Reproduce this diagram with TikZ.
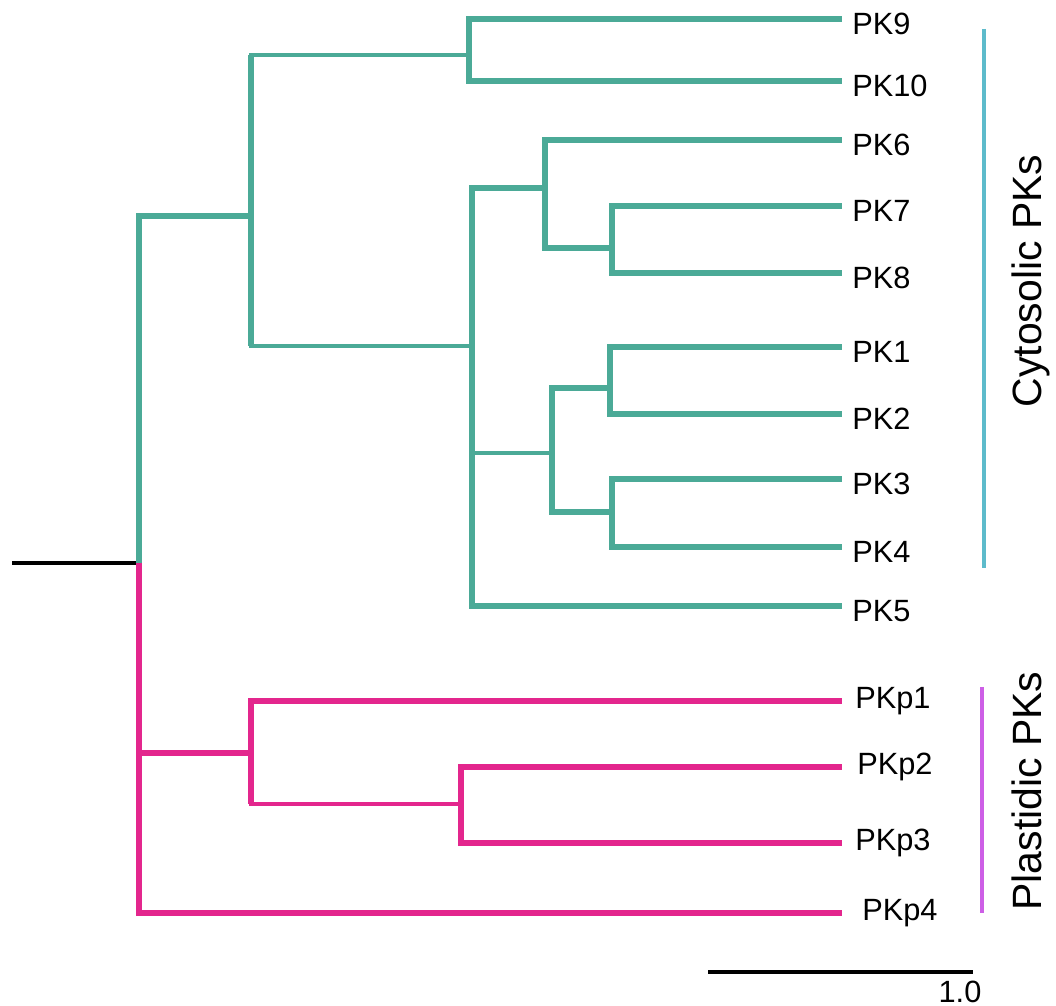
\documentclass[tikz,border=0pt]{standalone}
\usepackage{fontspec}
\setmainfont{Liberation Sans}
\usetikzlibrary{positioning}
\definecolor{cytgreen}{HTML}{4BAA97}
\definecolor{cytbar}{HTML}{5DBBCB}
\definecolor{plapink}{HTML}{E3268D}
\definecolor{plabar}{HTML}{CD5FE6}
\newcommand\tipx{842}
\newcommand\lgap{0.2cm}
\newcommand\pgap{0.26cm}
\newcommand\barx{984}
\newcommand\leaffont{\fontsize{17.5}{20}\selectfont}
\newcommand\groupfont{\fontsize{23.3}{27}\selectfont}

\begin{document}
\begin{tikzpicture}[x=0.02cm, y=-0.02cm,
  branch/.style={line width=3.2pt},
  twig/.style={line width=2.6pt},
  leaf/.style={inner sep=0pt, font=\leaffont},
  cytleaf/.style={leaf, yshift=-0.1cm},
  group/.style={rotate=90, anchor=base, inner sep=0pt, font=\groupfont},
  bar/.style={line width=2.3pt}]
  \useasboundingbox (0,0) rectangle (1056,1006);
  % inner nodes
  \coordinate (r) at (12,563);
  \coordinate (a) at (139,563);
  \coordinate (c1) at (251,216);
  \coordinate (c2) at (469,55);
  \coordinate (c3) at (472,346);
  \coordinate (c4) at (545,188);
  \coordinate (c5) at (612,248);
  \coordinate (c6) at (552,453);
  \coordinate (c7) at (610,388);
  \coordinate (c8) at (612,512);
  \coordinate (p1) at (251,753);
  \coordinate (p2) at (461,804);
  % tips
  \coordinate (t9) at (\tipx,19);
  \coordinate (t10) at (\tipx,81);
  \coordinate (t6) at (\tipx,140);
  \coordinate (t7) at (\tipx,206);
  \coordinate (t8) at (\tipx,273);
  \coordinate (t1) at (\tipx,347);
  \coordinate (t2) at (\tipx,414);
  \coordinate (t3) at (\tipx,479);
  \coordinate (t4) at (\tipx,547);
  \coordinate (t5) at (\tipx,606);
  \coordinate (tp1) at (\tipx,701);
  \coordinate (tp2) at (\tipx,767);
  \coordinate (tp3) at (\tipx,843);
  \coordinate (tp4) at (\tipx,913);
  % tip labels
  \node [cytleaf, right=\lgap of t9] (n9) {PK9};
  \node [cytleaf, right=\lgap of t10] (n10) {PK10};
  \node [cytleaf, right=\lgap of t6] (n6) {PK6};
  \node [cytleaf, right=\lgap of t7] (n7) {PK7};
  \node [cytleaf, right=\lgap of t8] (n8) {PK8};
  \node [cytleaf, right=\lgap of t1] (n1) {PK1};
  \node [cytleaf, right=\lgap of t2] (n2) {PK2};
  \node [cytleaf, right=\lgap of t3] (n3) {PK3};
  \node [cytleaf, right=\lgap of t4] (n4) {PK4};
  \node [cytleaf, right=\lgap of t5] (n5) {PK5};
  \node [leaf, right=\pgap of tp1] (np1) {PKp1};
  \node [leaf, right=\pgap+0.04cm of tp2] (np2) {PKp2};
  \node [leaf, right=\pgap of tp3] (np3) {PKp3};
  \node [leaf, right=\pgap+0.14cm of tp4] (np4) {PKp4};

  % root
  \draw [line width=2.3pt, black] (r) -- (a);
  % cytosolic clade
  \draw [branch, cytgreen] (a) |- (c1);
  \draw [twig, cytgreen] (c1) |- (c2);
  \draw [twig, cytgreen] (c1) |- (c3);
  \draw [branch, cytgreen] (c1 |- c2) -- (c1 |- c3);
  \draw [branch, cytgreen] (c2) |- (t9);
  \draw [branch, cytgreen] (c2) |- (t10);
  \draw [branch, cytgreen] (c3) |- (c4);
  \draw [twig, cytgreen] (c3) |- (c6);
  \draw [branch, cytgreen] (c3) |- (t5);
  \draw [branch, cytgreen] (c4) |- (t6);
  \draw [branch, cytgreen] (c4) |- (c5);
  \draw [branch, cytgreen] (c5) |- (t7);
  \draw [branch, cytgreen] (c5) |- (t8);
  \draw [branch, cytgreen] (c6) |- (c7);
  \draw [branch, cytgreen] (c6) |- (c8);
  \draw [branch, cytgreen] (c7) |- (t1);
  \draw [branch, cytgreen] (c7) |- (t2);
  \draw [branch, cytgreen] (c8) |- (t3);
  \draw [branch, cytgreen] (c8) |- (t4);
  % plastidic clade
  \draw [branch, plapink] (a) |- (p1);
  \draw [branch, plapink] (a) |- (tp4);
  \draw [branch, plapink] (p1) |- (tp1);
  \draw [twig, plapink] (p1) |- (p2);
  \draw [branch, plapink] (p1) -- (p1 |- p2);
  \draw [branch, plapink] (p2) |- (tp2);
  \draw [branch, plapink] (p2) |- (tp3);

  % group bars
  \coordinate (cb1) at (\barx,29);
  \coordinate (cb2) at (\barx,568);
  \coordinate (pb1) at (982,687);
  \coordinate (pb2) at (982,913);
  \draw [bar, cytbar] (cb1) -- (cb2);
  \draw [bar, plabar] (pb1) -- (pb2);
  \node [group] (cyt) at (1041,281) {Cytosolic PKs};
  \node [group] (pla) at (1041,791) {Plastidic PKs};

  % scale bar
  \coordinate (s1) at (708,972);
  \coordinate (s2) at (973,972);
  \draw [line width=2.3pt, black] (s1) -- (s2);
  \node [leaf, anchor=base] (sc) at (960,1003) {1.0};
\end{tikzpicture}
\end{document}
